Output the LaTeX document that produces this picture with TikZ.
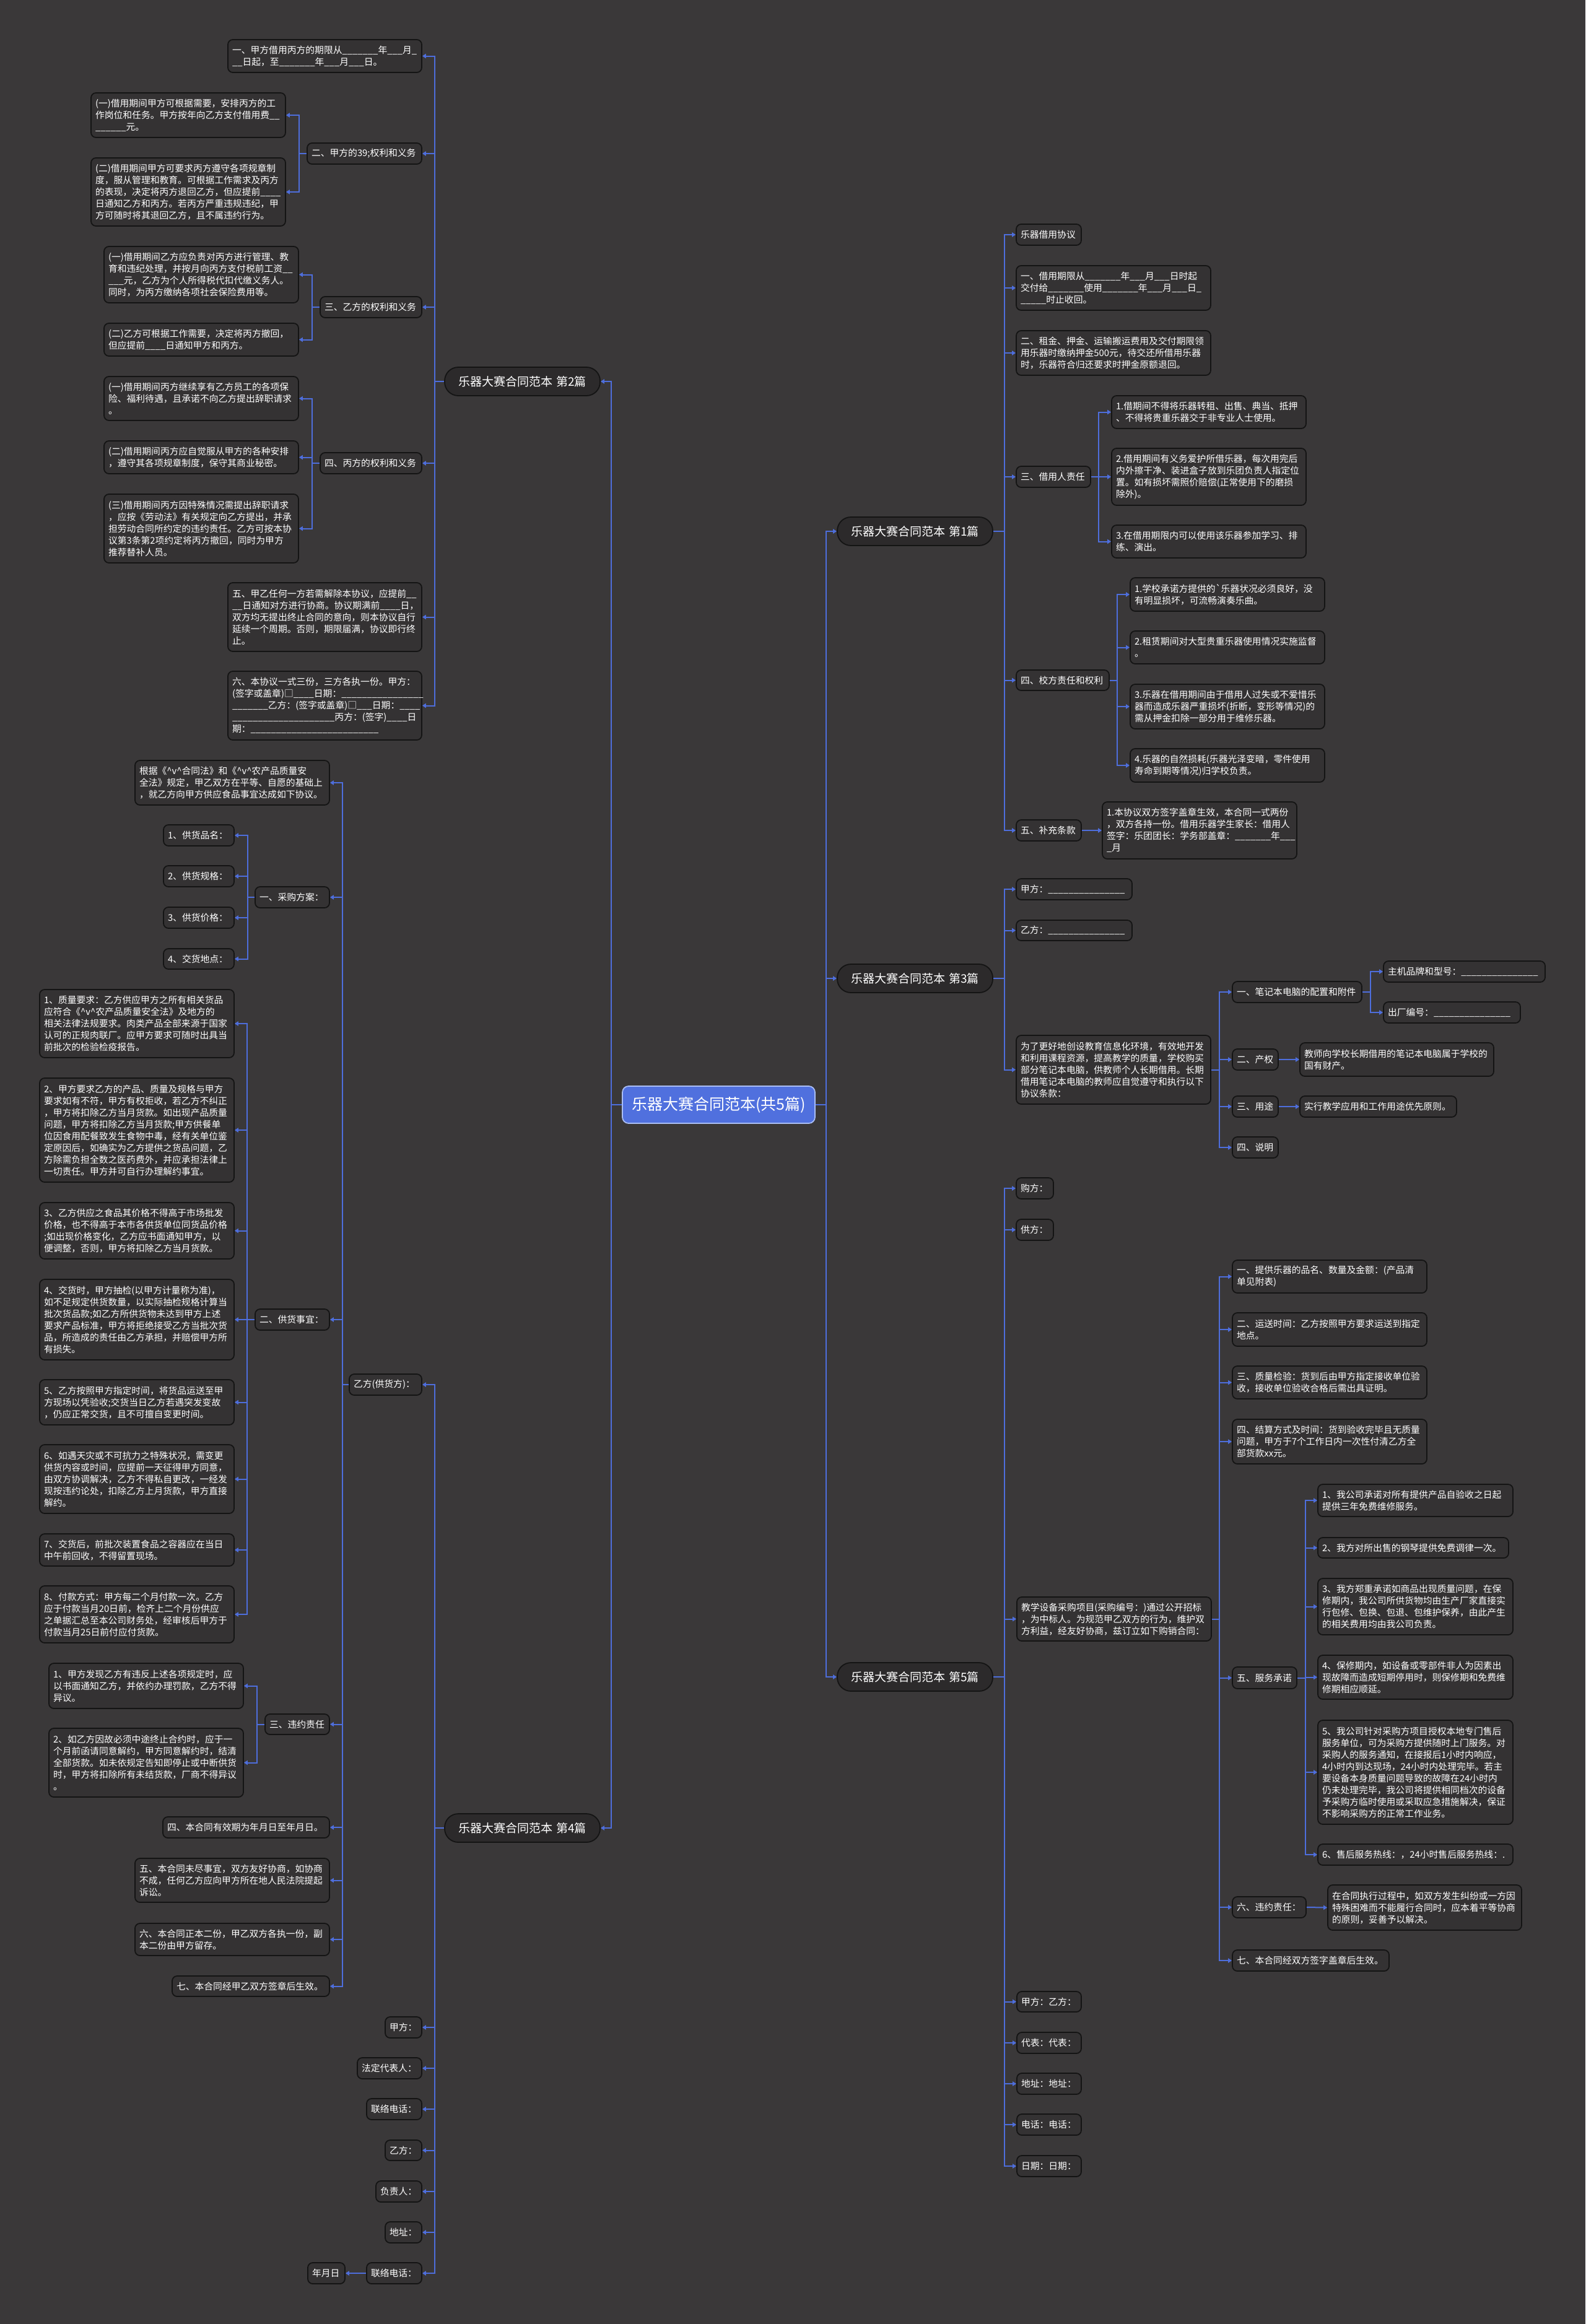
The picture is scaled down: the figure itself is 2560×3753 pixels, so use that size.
\documentclass[tikz,border=0pt]{standalone}
\usepackage{fontspec}
\setmainfont{Noto Sans CJK SC}
\usetikzlibrary{arrows.meta}
\definecolor{bg}{RGB}{58,56,57}
\definecolor{boxfill}{RGB}{52,50,51}
\definecolor{boxline}{RGB}{20,20,20}
\definecolor{linkc}{RGB}{78,110,220}
\definecolor{rootfill}{RGB}{80,112,222}
\definecolor{rootline}{RGB}{170,190,245}
\definecolor{lonefill}{RGB}{44,42,43}
\newcommand\uln[1]{\ifnum#1>0\relax\_\expandafter\uln\expandafter{\the\numexpr#1-1\relax}\fi}
\newcommand\hatv{\textasciicircum v\textasciicircum}
\newcommand\tbox[7][leaf]{%
  \pgfmathsetmacro\tbWW{(#5-#3)*0.5}%
  \pgfmathsetmacro\tbHH{(#6-#4)*0.5}%
  \pgfmathsetmacro\tbTT{(#5-#3)*0.5-7}%
  \node[#1,minimum width=\tbWW pt,minimum height=\tbHH pt,text width=\tbTT pt] (#2) at ({(#3+#5)/2},{(#4+#6)/2}) {#7};%
}
\begin{document}
\begin{tikzpicture}[x=0.5pt,y=-0.5pt,
  leaf/.style={draw=boxline, fill=boxfill, line width=0.9pt, rounded corners=4pt, text=white,
    font=\fontsize{7.4pt}{9.5pt}\selectfont, align=left, inner xsep=3.5pt, inner ysep=1pt},
  lone/.style={leaf, rounded corners=11pt, fill=lonefill, font=\fontsize{9.5pt}{11pt}\selectfont, align=center},
  rootn/.style={leaf, rounded corners=5pt, fill=rootfill, draw=rootline, font=\fontsize{12.5pt}{14pt}\selectfont, align=center},
  conn/.style={draw=linkc, line width=1pt, -{Triangle[length=3pt,width=3.6pt]}}]
\fill[bg] (0,0) rectangle (2560,3753);
\useasboundingbox (0,0) rectangle (2560,3753);

% root and level 1
\tbox[rootn]{root}{1005}{1754}{1316}{1814}{乐器大赛合同范本(共5篇)}
\tbox[lone]{b2}{718}{593}{969}{639}{乐器大赛合同范本 第2篇}
\tbox[lone]{b4}{718}{2929}{969}{2975}{乐器大赛合同范本 第4篇}
\tbox[lone]{b1}{1352}{835}{1603}{881}{乐器大赛合同范本 第1篇}
\tbox[lone]{b3}{1352}{1557}{1603}{1603}{乐器大赛合同范本 第3篇}
\tbox[lone]{b5}{1352}{2685}{1603}{2731}{乐器大赛合同范本 第5篇}

% ---------- 第2篇 ----------
\tbox{a1}{368}{64}{681}{117}{一、甲方借用丙方的期限从\uln{7}年\uln{3}月\uln{1}\\\uln{2}日起，至\uln{7}年\uln{3}月\uln{3}日。}
\tbox{a2}{496}{231}{681}{265}{二、甲方的39;权利和义务}
\tbox{a2a}{147}{150}{461}{222}{(一)借用期间甲方可根据需要，安排丙方的工\\作岗位和任务。甲方按年向乙方支付借用费\uln{2}\\\uln{6}元。}
\tbox{a2b}{147}{255}{461}{365}{(二)借用期间甲方可要求丙方遵守各项规章制\\度，服从管理和教育。可根据工作需求及丙方\\的表现，决定将丙方退回乙方，但应提前\uln{4}\\日通知乙方和丙方。若丙方严重违规违纪，甲\\方可随时将其退回乙方，且不属违约行为。}
\tbox{a3}{517}{479}{681}{513}{三、乙方的权利和义务}
\tbox{a3a}{168}{398}{482}{489}{(一)借用期间乙方应负责对丙方进行管理、教\\育和违纪处理，并按月向丙方支付税前工资\uln{2}\\\uln{3}元，乙方为个人所得税代扣代缴义务人。\\同时，为丙方缴纳各项社会保险费用等。}
\tbox{a3b}{168}{522}{482}{575}{(二)乙方可根据工作需要，决定将丙方撤回，\\但应提前\uln{4}日通知甲方和丙方。}
\tbox{a4}{517}{731}{681}{765}{四、丙方的权利和义务}
\tbox{a4a}{168}{608}{482}{679}{(一)借用期间丙方继续享有乙方员工的各项保\\险、福利待遇，且承诺不向乙方提出辞职请求\\。}
\tbox{a4b}{168}{712}{482}{765}{(二)借用期间丙方应自觉服从甲方的各种安排\\，遵守其各项规章制度，保守其商业秘密。}
\tbox{a4c}{168}{798}{482}{909}{(三)借用期间丙方因特殊情况需提出辞职请求\\，应按《劳动法》有关规定向乙方提出，并承\\担劳动合同所约定的违约责任。乙方可按本协\\议第3条第2项约定将丙方撤回，同时为甲方\\推荐替补人员。}
\tbox{a5}{368}{941}{681}{1052}{五、甲乙任何一方若需解除本协议，应提前\uln{2}\\\uln{2}日通知对方进行协商。协议期满前\uln{4}日，\\双方均无提出终止合同的意向，则本协议自行\\延续一个周期。否则，期限届满，协议即行终\\止。}
\tbox{a6}{368}{1084}{681}{1195}{六、本协议一式三份，三方各执一份。甲方：\\(签字或盖章)□\uln{4}日期：\uln{16}\\\uln{7}乙方：(签字或盖章)□\uln{3}日期：\uln{4}\\\uln{20}丙方：(签字)\uln{4}日\\期：\uln{25}}

% ---------- 第4篇 ----------
\tbox{c0}{564}{2219}{681}{2253}{乙方(供货方)：}
\tbox{c1}{218}{1228}{532}{1300}{根据《\hatv 合同法》和《\hatv 农产品质量安\\全法》规定，甲乙双方在平等、自愿的基础上\\，就乙方向甲方供应食品事宜达成如下协议。}
\tbox{c2}{412}{1432}{532}{1466}{一、采购方案：}
\tbox{c2a}{264}{1332}{378}{1366}{1、供货品名：}
\tbox{c2b}{264}{1398}{378}{1432}{2、供货规格：}
\tbox{c2c}{264}{1465}{378}{1499}{3、供货价格：}
\tbox{c2d}{264}{1532}{378}{1565}{4、交货地点：}
\tbox{c3}{412}{2114}{532}{2148}{二、供货事宜：}
\tbox{s1}{64}{1598}{378}{1708}{1、质量要求：乙方供应甲方之所有相关货品\\应符合《\hatv 农产品质量安全法》及地方的\\相关法律法规要求。肉类产品全部来源于国家\\认可的正规肉联厂。应甲方要求可随时出具当\\前批次的检验检疫报告。}
\tbox{s2}{64}{1741}{378}{1909}{2、甲方要求乙方的产品、质量及规格与甲方\\要求如有不符，甲方有权拒收，若乙方不纠正\\，甲方将扣除乙方当月货款。如出现产品质量\\问题，甲方将扣除乙方当月货款;甲方供餐单\\位因食用配餐致发生食物中毒，经有关单位鉴\\定原因后，如确实为乙方提供之货品问题，乙\\方除需负担全数之医药费外，并应承担法律上\\一切责任。甲方并可自行办理解约事宜。}
\tbox{s3}{64}{1942}{378}{2033}{3、乙方供应之食品其价格不得高于市场批发\\价格，也不得高于本市各供货单位同货品价格\\;如出现价格变化，乙方应书面通知甲方，以\\便调整，否则，甲方将扣除乙方当月货款。}
\tbox{s4}{64}{2066}{378}{2196}{4、交货时，甲方抽检(以甲方计量称为准)，\\如不足规定供货数量，以实际抽检规格计算当\\批次货品款;如乙方所供货物未达到甲方上述\\要求产品标准，甲方将拒绝接受乙方当批次货\\品，所造成的责任由乙方承担，并赔偿甲方所\\有损失。}
\tbox{s5}{64}{2228}{378}{2301}{5、乙方按照甲方指定时间，将货品运送至甲\\方现场以凭验收;交货当日乙方若遇突发变故\\，仍应正常交货，且不可擅自变更时间。}
\tbox{s6}{64}{2333}{378}{2444}{6、如遇天灾或不可抗力之特殊状况，需变更\\供货内容或时间，应提前一天征得甲方同意，\\由双方协调解决，乙方不得私自更改，一经发\\现按违约论处，扣除乙方上月货款，甲方直接\\解约。}
\tbox{s7}{64}{2477}{378}{2529}{7、交货后，前批次装置食品之容器应在当日\\中午前回收，不得留置现场。}
\tbox{s8}{64}{2561}{378}{2653}{8、付款方式：甲方每二个月付款一次。乙方\\应于付款当月20日前，检齐上二个月份供应\\之单据汇总至本公司财务处，经审核后甲方于\\付款当月25日前付应付货款。}
\tbox{c4}{428}{2768}{532}{2801}{三、违约责任}
\tbox{v1}{79}{2686}{393}{2759}{1、甲方发现乙方有违反上述各项规定时，应\\以书面通知乙方，并依约办理罚款，乙方不得\\异议。}
\tbox{v2}{79}{2791}{393}{2902}{2、如乙方因故必须中途终止合约时，应于一\\个月前函请同意解约，甲方同意解约时，结清\\全部货款。如未依规定告知即停止或中断供货\\时，甲方将扣除所有未结货款，厂商不得异议\\。}
\tbox{c5}{263}{2934}{532}{2968}{四、本合同有效期为年月日至年月日。}
\tbox{c6}{218}{3001}{532}{3072}{五、本合同未尽事宜，双方友好协商，如协商\\不成，任何乙方应向甲方所在地人民法院提起\\诉讼。}
\tbox{c7}{218}{3106}{532}{3158}{六、本合同正本二份，甲乙双方各执一份，副\\本二份由甲方留存。}
\tbox{c8}{278}{3191}{532}{3224}{七、本合同经甲乙双方签章后生效。}
\tbox{d1}{622}{3257}{681}{3291}{甲方：}
\tbox{d2}{577}{3323}{681}{3357}{法定代表人：}
\tbox{d3}{592}{3389}{681}{3423}{联络电话：}
\tbox{d4}{622}{3456}{681}{3489}{乙方：}
\tbox{d5}{607}{3522}{681}{3556}{负责人：}
\tbox{d6}{622}{3588}{681}{3622}{地址：}
\tbox{d7}{592}{3654}{681}{3688}{联络电话：}
\tbox{d8}{497}{3654}{557}{3688}{年月日}

% ---------- 第1篇 ----------
\tbox{e1}{1641}{362}{1746}{396}{乐器借用协议}
\tbox{e2}{1641}{429}{1955}{501}{一、借用期限从\uln{7}年\uln{3}月\uln{3}日时起\\交付给\uln{7}使用\uln{7}年\uln{3}月\uln{3}日\uln{1}\\\uln{5}时止收回。}
\tbox{e3}{1641}{534}{1955}{606}{二、租金、押金、运输搬运费用及交付期限领\\用乐器时缴纳押金500元，待交还所借用乐器\\时，乐器符合归还要求时押金原额退回。}
\tbox{e4}{1641}{753}{1761}{787}{三、借用人责任}
\tbox{e4a}{1795}{639}{2109}{692}{1.借期间不得将乐器转租、出售、典当、抵押\\、不得将贵重乐器交于非专业人士使用。}
\tbox{e4b}{1795}{724}{2109}{816}{2.借用期间有义务爱护所借乐器，每次用完后\\内外擦干净、装进盒子放到乐团负责人指定位\\置。如有损坏需照价赔偿(正常使用下的磨损\\除外)。}
\tbox{e4c}{1795}{848}{2109}{901}{3.在借用期限内可以使用该乐器参加学习、排\\练、演出。}
\tbox{e5}{1641}{1082}{1791}{1115}{四、校方责任和权利}
\tbox{e5a}{1825}{933}{2139}{987}{1.学校承诺方提供的\textasciigrave 乐器状况必须良好，没\\有明显损坏，可流畅演奏乐曲。}
\tbox{e5b}{1825}{1019}{2139}{1072}{2.租赁期间对大型贵重乐器使用情况实施监督\\。}
\tbox{e5c}{1825}{1105}{2139}{1177}{3.乐器在借用期间由于借用人过失或不爱惜乐\\器而造成乐器严重损坏(折断，变形等情况)的\\需从押金扣除一部分用于维修乐器。}
\tbox{e5d}{1825}{1209}{2139}{1263}{4.乐器的自然损耗(乐器光泽变暗，零件使用\\寿命到期等情况)归学校负责。}
\tbox{e6}{1641}{1324}{1746}{1358}{五、补充条款}
\tbox{e6a}{1780}{1295}{2094}{1387}{1.本协议双方签字盖章生效，本合同一式两份\\，双方各持一份。借用乐器学生家长：借用人\\签字：乐团团长：学务部盖章：\uln{7}年\uln{3}\\\uln{1}月}

% ---------- 第3篇 ----------
\tbox{f1}{1641}{1419}{1828}{1453}{甲方：\uln{15}}
\tbox{f2}{1641}{1486}{1828}{1519}{乙方：\uln{15}}
\tbox{f3}{1641}{1672}{1955}{1783}{为了更好地创设教育信息化环境，有效地开发\\和利用课程资源，提高教学的质量，学校购买\\部分笔记本电脑，供教师个人长期借用。长期\\借用笔记本电脑的教师应自觉遵守和执行以下\\协议条款：}
\tbox{f3a}{1990}{1585}{2199}{1619}{一、笔记本电脑的配置和附件}
\tbox{f3a1}{2234}{1552}{2495}{1586}{主机品牌和型号：\uln{15}}
\tbox{f3a2}{2234}{1618}{2455}{1652}{出厂编号：\uln{15}}
\tbox{f3b}{1990}{1694}{2064}{1728}{二、产权}
\tbox{f3b1}{2099}{1684}{2412}{1738}{教师向学校长期借用的笔记本电脑属于学校的\\国有财产。}
\tbox{f3c}{1990}{1770}{2064}{1804}{三、用途}
\tbox{f3c1}{2099}{1770}{2352}{1804}{实行教学应用和工作用途优先原则。}
\tbox{f3d}{1990}{1836}{2064}{1870}{四、说明}

% ---------- 第5篇 ----------
\tbox{g1}{1641}{1902}{1701}{1936}{购方：}
\tbox{g2}{1641}{1969}{1701}{2003}{供方：}
\tbox{g3}{1642}{2579}{1956}{2650}{教学设备采购项目(采购编号：)通过公开招标\\，为中标人。为规范甲乙双方的行为，维护双\\方利益，经友好协商，兹订立如下购销合同：}
\tbox{g3a}{1990}{2035}{2304}{2088}{一、提供乐器的品名、数量及金额：(产品清\\单见附表)}
\tbox{g3b}{1990}{2120}{2304}{2174}{二、运送时间：乙方按照甲方要求运送到指定\\地点。}
\tbox{g3c}{1990}{2206}{2304}{2259}{三、质量检验：货到后由甲方指定接收单位验\\收，接收单位验收合格后需出具证明。}
\tbox{g3d}{1990}{2292}{2304}{2364}{四、结算方式及时间：货到验收完毕且无质量\\问题，甲方于7个工作日内一次性付清乙方全\\部货款xx元。}
\tbox{g3e}{1990}{2692}{2094}{2727}{五、服务承诺}
\tbox{h1}{2128}{2397}{2443}{2449}{1、我公司承诺对所有提供产品自验收之日起\\提供三年免费维修服务。}
\tbox{h2}{2128}{2483}{2436}{2516}{2、我方对所出售的钢琴提供免费调律一次。}
\tbox{h3}{2128}{2549}{2443}{2640}{3、我方郑重承诺如商品出现质量问题，在保\\修期内，我公司所供货物均由生产厂家直接实\\行包修、包换、包退、包维护保养，由此产生\\的相关费用均由我公司负责。}
\tbox{h4}{2128}{2673}{2443}{2744}{4、保修期内，如设备或零部件非人为因素出\\现故障而造成短期停用时，则保修期和免费维\\修期相应顺延。}
\tbox{h5}{2128}{2778}{2443}{2946}{5、我公司针对采购方项目授权本地专门售后\\服务单位，可为采购方提供随时上门服务。对\\采购人的服务通知，在接报后1小时内响应，\\4小时内到达现场，24小时内处理完毕。若主\\要设备本身质量问题导致的故障在24小时内\\仍未处理完毕，我公司将提供相同档次的设备\\予采购方临时使用或采取应急措施解决，保证\\不影响采购方的正常工作业务。}
\tbox{h6}{2128}{2978}{2443}{3012}{6、售后服务热线：，24小时售后服务热线：.}
\tbox{g3f}{1990}{3063}{2109}{3097}{六、违约责任：}
\tbox{g3f1}{2144}{3044}{2457}{3117}{在合同执行过程中，如双方发生纠纷或一方因\\特殊困难而不能履行合同时，应本着平等协商\\的原则，妥善予以解决。}
\tbox{g3g}{1990}{3149}{2243}{3183}{七、本合同经双方签字盖章后生效。}
\tbox{g4}{1642}{3216}{1746}{3249}{甲方：乙方：}
\tbox{g5}{1642}{3282}{1746}{3316}{代表：代表：}
\tbox{g6}{1642}{3348}{1746}{3382}{地址：地址：}
\tbox{g7}{1642}{3414}{1746}{3448}{电话：电话：}
\tbox{g8}{1642}{3481}{1746}{3515}{日期：日期：}

% ---------- connectors ----------
\foreach \c in {b2,b4} \draw[conn] (root.west) -- ++(-17,0) |- (\c.east);
\foreach \c in {b1,b3,b5} \draw[conn] (root.east) -- ++(17,0) |- (\c.west);

\foreach \c in {a1,a2,a3,a4,a5,a6} \draw[conn] (b2.west) -- ++(-15,0) |- (\c.east);
\foreach \c in {a2a,a2b} \draw[conn] (a2.west) -- ++(-12,0) |- (\c.east);
\foreach \c in {a3a,a3b} \draw[conn] (a3.west) -- ++(-12,0) |- (\c.east);
\foreach \c in {a4a,a4b,a4c} \draw[conn] (a4.west) -- ++(-12,0) |- (\c.east);

\foreach \c in {c0,d1,d2,d3,d4,d5,d6,d7} \draw[conn] (b4.west) -- ++(-15,0) |- (\c.east);
\foreach \c in {c1,c2,c3,c4,c5,c6,c7,c8} \draw[conn] (c0.west) -- ++(-10,0) |- (\c.east);
\foreach \c in {c2a,c2b,c2c,c2d} \draw[conn] (c2.west) -- ++(-11,0) |- (\c.east);
\foreach \c in {s1,s2,s3,s4,s5,s6,s7,s8} \draw[conn] (c3.west) -- ++(-12,0) |- (\c.east);
\foreach \c in {v1,v2} \draw[conn] (c4.west) -- ++(-12,0) |- (\c.east);
\draw[conn] (d7.west) -- (d8.east);

\foreach \c in {e1,e2,e3,e4,e5,e6} \draw[conn] (b1.east) -- ++(18,0) |- (\c.west);
\foreach \c in {e4a,e4b,e4c} \draw[conn] (e4.east) -- ++(12,0) |- (\c.west);
\foreach \c in {e5a,e5b,e5c,e5d} \draw[conn] (e5.east) -- ++(12,0) |- (\c.west);
\draw[conn] (e6.east) -- (e6a.west);

\foreach \c in {f1,f2,f3} \draw[conn] (b3.east) -- ++(18,0) |- (\c.west);
\foreach \c in {f3a,f3b,f3c,f3d} \draw[conn] (f3.east) -- ++(13,0) |- (\c.west);
\foreach \c in {f3a1,f3a2} \draw[conn] (f3a.east) -- ++(13,0) |- (\c.west);
\draw[conn] (f3b.east) -- (f3b1.west);
\draw[conn] (f3c.east) -- (f3c1.west);

\foreach \c in {g1,g2,g3,g4,g5,g6,g7,g8} \draw[conn] (b5.east) -- ++(18,0) |- (\c.west);
\foreach \c in {g3a,g3b,g3c,g3d,g3e,g3f,g3g} \draw[conn] (g3.east) -- ++(12,0) |- (\c.west);
\foreach \c in {h1,h2,h3,h4,h5,h6} \draw[conn] (g3e.east) -- ++(13,0) |- (\c.west);
\draw[conn] (g3f.east) -- (g3f1.west);
\end{tikzpicture}
\end{document}
